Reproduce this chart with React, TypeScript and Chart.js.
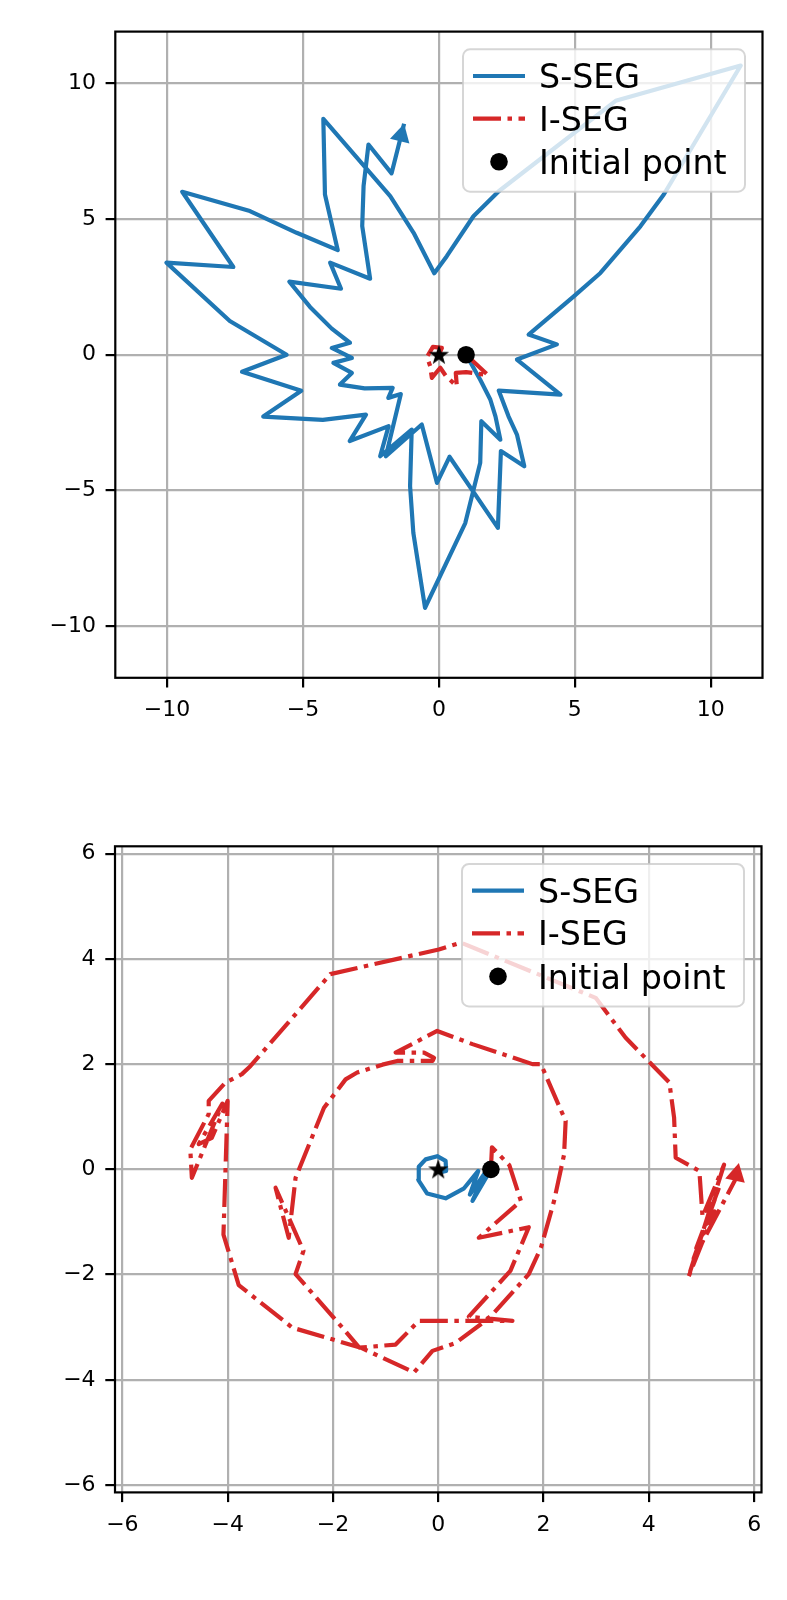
import React, { useEffect, useRef } from "react";
import { Chart, registerables } from "chart.js";

Chart.register(...registerables);

// ---------------- data: top panel ----------------
const topSSegX = [1.0, 1.2, 1.52, 1.89, 2.08, 2.26, 1.56, 1.52, 0.97, -0.51, -0.94, -1.06, -1.0, -2.16, -1.85, -3.28, -2.68, -4.27, -6.46, -5.06, -7.24, -5.6, -7.69, -10.02, -7.56, -9.44, -6.95, -5.23, -3.72, -4.19, -4.25, -1.79, -0.93, -0.17, 0.29, 1.27, 2.2, 6.5, 11.1, 8.27, 7.41, 5.94, 4.96, 3.3, 4.34, 2.87, 4.47, 2.2, 2.56, 2.87, 3.14, 2.28, 2.17, 0.39, -0.07, -0.63, -1.95, -1.4, -1.86, -1.7, -2.73, -3.64, -3.2, -3.88, -3.2, -3.94, -3.27, -3.94, -4.74, -5.5, -3.6, -4.0, -2.53, -2.82, -2.77, -2.59, -1.74, -1.28];
const topSSegY = [0.0, -0.35, -0.92, -1.65, -2.27, -3.13, -2.45, -3.98, -6.2, -9.32, -6.56, -4.84, -2.76, -3.74, -2.63, -3.18, -2.21, -2.4, -2.28, -1.33, -0.63, 0.0, 1.24, 3.39, 3.23, 6.0, 5.29, 4.49, 3.85, 5.9, 8.69, 5.84, 4.49, 3.0, 3.63, 5.1, 6.02, 9.35, 10.65, 5.9, 4.73, 3.01, 2.15, 0.74, 0.38, -0.18, -1.47, -1.32, -2.27, -2.94, -4.11, -3.55, -6.38, -3.76, -4.72, -2.57, -3.74, -1.45, -1.59, -1.22, -1.24, -1.1, -0.67, -0.3, -0.12, 0.25, 0.44, 0.96, 1.76, 2.69, 2.43, 3.39, 2.8, 4.74, 6.21, 7.74, 6.68, 8.51];
const topISegX = [1.0, 1.8, 1.0, 0.62, 0.66, 0.26, 0.05, -0.26, -0.32, -0.44, -0.22, 0.11, 0.0];
const topISegY = [0.0, -0.75, -0.64, -0.67, -1.16, -0.79, -0.48, -0.85, -0.42, -0.08, 0.29, 0.25, 0.0];

// ---------------- data: bottom panel ----------------
const botSSegX = [1.0, 0.65, 0.88, 0.6, 0.76, 0.49, 0.14, -0.21, -0.38, -0.37, -0.24, -0.02, 0.14, 0.15, 0.02];
const botSSegY = [0.0, -0.6, -0.08, -0.48, -0.03, -0.36, -0.55, -0.46, -0.2, 0.05, 0.19, 0.25, 0.16, -0.03, -0.06];
const botISegX = [1.0, 1.02, 1.35, 1.57, 0.77, 1.72, 1.37, 0.58, 1.41, -0.37, -0.81, -1.5, -1.82, -2.71, -2.56, -3.09, -2.84, -2.71, -2.17, -1.76, -1.54, -1.06, -0.78, -0.11, -0.08, -0.27, -0.81, -0.02, 0.65, 1.79, 1.95, 2.17, 2.42, 2.39, 2.2, 1.95, 1.72, 1.03, 0.84, 0.33, -0.11, -0.46, -1.47, -2.77, -3.79, -4.08, -4.0, -4.3, -4.55, -4.1, -4.68, -4.71, -4.36, -4.36, -4.04, -3.73, -3.57, -2.05, 0.01, 0.43, 2.99, 3.56, 4.39, 4.48, 4.51, 4.96, 5.02, 5.43, 4.75, 5.25, 4.9, 5.35, 4.85, 5.64, 5.71];
const botISegY = [0.0, 0.42, 0.08, -0.6, -1.3, -1.1, -1.93, -2.8, -2.88, -2.88, -3.33, -3.39, -3.01, -1.99, -1.55, -0.35, -1.3, -0.16, 1.17, 1.71, 1.84, 1.99, 2.06, 2.06, 2.12, 2.22, 2.22, 2.63, 2.38, 2.0, 2.0, 1.49, 0.92, 0.28, -0.6, -1.49, -1.99, -2.76, -2.92, -3.3, -3.45, -3.86, -3.39, -3.01, -2.2, -1.24, 1.3, 0.6, 0.48, 1.25, -0.16, 0.38, 1.05, 1.3, 1.65, 1.81, 1.96, 3.71, 4.18, 4.31, 3.26, 2.5, 1.65, 0.98, 0.22, -0.03, -0.9, 0.09, -2.05, -0.8, -1.5, -0.3, -1.7, -0.2, 0.12];

// ---------------- shared markers / ticks / labels ----------------
const initialPointX = [1.0];
const initialPointY = [0.0];
const targetX = [0.0];
const targetY = [0.0];
const topTicks = [-10, -5, 0, 5, 10];
const bottomTicks = [-6, -4, -2, 0, 2, 4, 6];
const topLimit = 11.9;
const bottomLimit = 6.14;
const legendLabels = ["S-SEG", "I-SEG", "Initial point"];

// ---------------- styles ----------------
const BLUE = "#1f77b4";
const RED = "#d62728";
const LINE_W = 4.2;
const DASH_DOT = [28, 6.5, 4.5, 6.5];
const FONT = "'DejaVu Sans', sans-serif";

const pts = (xs: number[], ys: number[]) => xs.map((x, i) => ({ x, y: ys[i] }));
const fmt = (v: number) => (v < 0 ? "\u2212" + Math.abs(v) : String(v));

function makeStar(): HTMLCanvasElement {
  const c = document.createElement("canvas");
  c.width = 28;
  c.height = 28;
  const g = c.getContext("2d")!;
  const R = 10.6;
  const r = R * 0.40;
  g.beginPath();
  for (let k = 0; k < 10; k++) {
    const a = -Math.PI / 2 + (k * Math.PI) / 5;
    const rad = k % 2 === 0 ? R : r;
    const px = 14 + rad * Math.cos(a);
    const py = 14.6 + rad * Math.sin(a);
    if (k === 0) g.moveTo(px, py);
    else g.lineTo(px, py);
  }
  g.closePath();
  g.fillStyle = "#000";
  g.fill();
  return c;
}

type Panel = {
  sx: number[];
  sy: number[];
  ix: number[];
  iy: number[];
  arrowOn: "s" | "i";
  ticks: number[];
  limit: number;
  padding: { left: number; right: number; top: number; bottom: number };
  yAxisWidth: number;
};

const decorPlugin = {
  id: "decor",
  afterDatasetsDraw(chart: any) {
    const ctx = chart.ctx;
    const a = chart.chartArea;
    chart.data.datasets.forEach((d: any, i: number) => {
      if (!d.arrow) return;
      const el = chart.getDatasetMeta(i).data;
      const p1 = el[el.length - 2];
      const p2 = el[el.length - 1];
      const dx = p2.x - p1.x;
      const dy = p2.y - p1.y;
      const len = Math.hypot(dx, dy) || 1;
      const ux = dx / len;
      const uy = dy / len;
      const L = 18;
      const W = 10;
      const bx = p2.x - ux * L;
      const by = p2.y - uy * L;
      ctx.save();
      ctx.fillStyle = d.borderColor;
      ctx.beginPath();
      ctx.moveTo(p2.x, p2.y);
      ctx.lineTo(bx - uy * W, by + ux * W);
      ctx.lineTo(bx + uy * W, by - ux * W);
      ctx.closePath();
      ctx.fill();
      ctx.restore();
    });
    ctx.save();
    ctx.strokeStyle = "#000";
    ctx.lineWidth = 2.2;
    ctx.strokeRect(a.left, a.top, a.right - a.left, a.bottom - a.top);
    ctx.restore();
  },
  afterDraw(chart: any) {
    const ctx = chart.ctx;
    const a = chart.chartArea;
    const w = 282;
    const h = 142.4;
    const x0 = a.right - 17.5 - w;
    const y0 = a.top + 17.7;
    ctx.save();
    ctx.beginPath();
    if (ctx.roundRect) ctx.roundRect(x0, y0, w, h, 7);
    else ctx.rect(x0, y0, w, h);
    ctx.fillStyle = "rgba(255,255,255,0.8)";
    ctx.fill();
    ctx.lineWidth = 2;
    ctx.strokeStyle = "rgba(204,204,204,0.8)";
    ctx.stroke();
    const rows = [26.7, 69.3, 112.4];
    ctx.lineWidth = LINE_W;
    ctx.lineCap = "butt";
    ctx.strokeStyle = BLUE;
    ctx.beginPath();
    ctx.moveTo(x0 + 10, y0 + rows[0]);
    ctx.lineTo(x0 + 62, y0 + rows[0]);
    ctx.stroke();
    ctx.strokeStyle = RED;
    ctx.setLineDash(DASH_DOT);
    ctx.beginPath();
    ctx.moveTo(x0 + 10, y0 + rows[1]);
    ctx.lineTo(x0 + 62, y0 + rows[1]);
    ctx.stroke();
    ctx.setLineDash([]);
    ctx.fillStyle = "#000";
    ctx.beginPath();
    ctx.arc(x0 + 36, y0 + rows[2], 8.8, 0, Math.PI * 2);
    ctx.fill();
    ctx.font = `33.3px ${FONT}`;
    ctx.textBaseline = "alphabetic";
    ctx.textAlign = "left";
    legendLabels.forEach((t, k) => {
      ctx.fillText(t, x0 + 76, y0 + rows[k] + 12.1);
    });
    ctx.restore();
  },
};

function buildChart(canvas: HTMLCanvasElement, p: Panel) {
  const star = makeStar();
  const axis = (isY: boolean) => ({
    type: "linear" as const,
    min: -p.limit,
    max: p.limit,
    afterBuildTicks: (s: any) => {
      s.ticks = p.ticks.map((v) => ({ value: v }));
    },
    afterFit: (s: any) => {
      if (isY) s.width = p.yAxisWidth;
      else s.height = 100;
    },
    border: { display: false },
    grid: {
      color: "#b0b0b0",
      lineWidth: 2.2,
      drawTicks: true,
      tickLength: 9.7,
      tickColor: "#000",
      tickWidth: 2.2,
    },
    ticks: {
      color: "#000",
      padding: 9.7,
      font: { family: FONT, size: 22 },
      maxRotation: 0,
      callback: (v: any) => fmt(Number(v)),
    },
  });
  return new Chart(canvas, {
    type: "scatter",
    data: {
      datasets: [
        {
          label: "S-SEG",
          data: pts(p.sx, p.sy),
          showLine: true,
          borderColor: BLUE,
          backgroundColor: BLUE,
          borderWidth: LINE_W,
          borderJoinStyle: "round",
          borderCapStyle: "butt",
          pointRadius: 0,
          tension: 0,
          order: 4,
          arrow: p.arrowOn === "s",
        } as any,
        {
          label: "I-SEG",
          data: pts(p.ix, p.iy),
          showLine: true,
          borderColor: RED,
          backgroundColor: RED,
          borderWidth: LINE_W,
          borderDash: DASH_DOT,
          borderJoinStyle: "round",
          borderCapStyle: "butt",
          pointRadius: 0,
          tension: 0,
          order: 3,
          arrow: p.arrowOn === "i",
        } as any,
        {
          label: "Initial point",
          data: pts(initialPointX, initialPointY),
          showLine: false,
          pointRadius: 8.8,
          pointBackgroundColor: "#000",
          pointBorderWidth: 0,
          order: 2,
        } as any,
        {
          label: "target",
          data: pts(targetX, targetY),
          showLine: false,
          pointStyle: star,
          pointRadius: 10,
          order: 1,
        } as any,
      ],
    },
    options: {
      animation: false,
      responsive: false,
      maintainAspectRatio: false,
      devicePixelRatio: 1,
      events: [],
      layout: { padding: p.padding },
      plugins: { legend: { display: false }, tooltip: { enabled: false } },
      scales: { x: axis(false), y: axis(true) },
    } as any,
    plugins: [decorPlugin],
  });
}

const topPanel: Panel = {
  sx: topSSegX,
  sy: topSSegY,
  ix: topISegX,
  iy: topISegY,
  arrowOn: "s",
  ticks: topTicks,
  limit: topLimit,
  padding: { left: 0, right: 24.5, top: 31.6, bottom: 22.2 },
  yAxisWidth: 115.3,
};

const bottomPanel: Panel = {
  sx: botSSegX,
  sy: botSSegY,
  ix: botISegX,
  iy: botISegY,
  arrowOn: "i",
  ticks: bottomTicks,
  limit: bottomLimit,
  padding: { left: 0, right: 25.5, top: 46.3, bottom: 7.6 },
  yAxisWidth: 115,
};

function PanelChart({ panel, top }: { panel: Panel; top: number }) {
  const ref = useRef<HTMLCanvasElement>(null);
  useEffect(() => {
    if (!ref.current) return;
    const c = buildChart(ref.current, panel);
    return () => c.destroy();
  }, [panel]);
  return (
    <canvas
      ref={ref}
      width={787}
      height={800}
      style={{ position: "absolute", left: 0, top, width: 787, height: 800, display: "block" }}
    />
  );
}

export default function App() {
  return (
    <div style={{ position: "absolute", left: 0, top: 0, width: 787, height: 1600, background: "#fff" }}>
      <PanelChart panel={topPanel} top={0} />
      <PanelChart panel={bottomPanel} top={800} />
    </div>
  );
}
